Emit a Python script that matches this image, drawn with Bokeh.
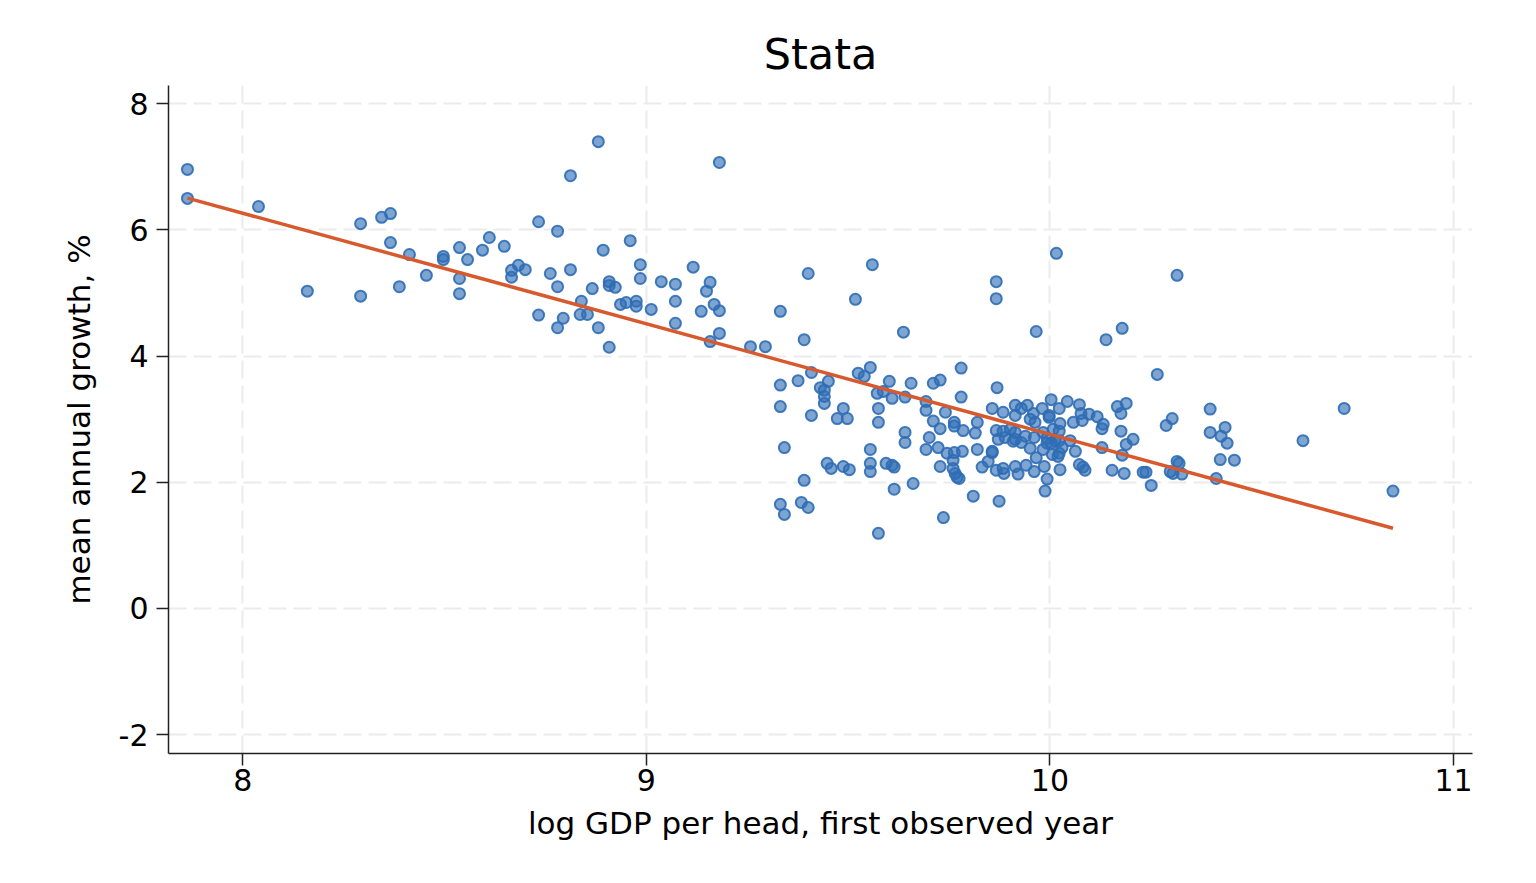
import numpy as np
from bokeh.plotting import figure
from bokeh.models import Range1d, FixedTicker, PrintfTickFormatter
from bokeh.embed import file_html
from bokeh.resources import INLINE

# log GDP per head in the first observed year, one value per country
log_gdp = [
    7.863, 7.863, 8.039, 8.292, 8.344, 8.366, 8.366, 8.413, 8.497, 8.497,
    8.537, 8.455, 8.388, 8.160, 8.292, 8.537, 8.537,
    8.881, 9.181, 8.812, 8.733, 8.780, 8.611, 8.960, 8.648, 8.594, 8.557,
    8.893, 8.666, 8.666, 8.683, 8.700, 8.762, 8.780, 8.812, 8.866, 8.908,
    8.908, 8.923, 8.985, 8.985, 9.037, 9.072, 9.116, 9.158, 9.149, 8.839,
    8.936, 8.950, 8.975, 8.975, 9.012, 9.072, 9.168, 9.181, 9.136, 8.733,
    8.794, 8.780, 8.836, 8.854, 8.881, 8.908, 9.072, 9.181, 9.158, 9.258,
    9.295,
    9.560, 9.401, 9.867, 9.867, 9.518, 9.332, 9.637, 9.391, 9.555, 9.780,
    9.525, 9.540, 9.409, 9.376, 9.451, 9.602, 9.332, 9.431, 9.441, 9.441,
    9.441, 9.656, 9.711, 9.728, 9.869, 9.572, 9.587, 9.609, 9.641, 9.780,
    9.693, 9.693, 9.741, 9.332, 9.409, 9.488, 9.473, 9.498, 9.575, 9.575,
    9.711, 9.728, 9.763, 9.763, 9.785, 9.820, 9.815, 9.857, 9.867, 9.872,
    9.641, 9.641, 9.701, 9.693, 9.723, 9.745, 9.763, 9.783, 9.760, 9.760,
    9.765, 9.770, 9.775, 9.820, 9.857, 9.857, 9.847, 9.832, 9.867, 9.728,
    9.342, 9.555, 9.555, 9.555, 9.448, 9.458, 9.488, 9.503, 9.594, 9.609,
    9.614, 9.661, 9.614, 9.391, 9.810, 9.874, 9.332, 9.342, 9.384, 9.401,
    9.736, 9.575,
    9.884, 9.914, 9.929, 9.944, 9.981, 10.003, 10.043, 10.073, 10.023, 9.914,
    9.959, 9.951, 9.963, 9.998, 9.998, 10.025, 10.058, 10.077, 10.080, 10.097,
    10.117, 10.132, 10.129, 10.167, 10.189, 10.176, 9.884, 9.902, 9.914, 9.889,
    9.909, 9.914, 9.929, 9.939, 9.961, 9.983, 9.993, 10.008, 10.023, 10.013,
    10.023, 10.050, 10.030, 10.003, 9.993, 9.951, 9.983, 9.966, 10.006, 10.020,
    10.023, 9.993, 9.988, 10.025, 10.063, 10.073, 10.082, 10.087, 10.129, 10.176,
    10.206, 10.189, 10.179, 10.154, 10.184, 10.231, 10.238, 10.251, 9.914, 9.921,
    9.941, 9.961, 9.986, 9.884, 9.886, 10.266,
    10.397, 10.729, 10.303, 10.288, 10.397, 10.434, 10.424, 10.439, 10.627, 10.422,
    10.457, 10.315, 10.320, 10.298, 10.305, 10.327, 10.412, 10.850,
    10.016, 10.315, 9.966, 10.139, 10.179,
]

# mean annual growth, % (same order)
growth = [
    6.96, 6.50, 6.37, 6.10, 6.20, 6.26, 5.80, 5.61, 5.58, 5.53,
    5.72, 5.28, 5.10, 5.03, 4.95, 5.23, 4.99,
    7.40, 7.07, 6.86, 6.13, 5.98, 5.88, 5.83, 5.74, 5.68, 5.53,
    5.68, 5.36, 5.25, 5.44, 5.37, 5.31, 5.10, 5.37, 5.07, 5.18,
    5.12, 5.09, 5.45, 5.23, 5.18, 5.14, 5.41, 5.17, 5.03, 4.87,
    4.82, 4.85, 4.87, 4.79, 4.74, 4.87, 4.82, 4.72, 4.71, 4.65,
    4.60, 4.45, 4.66, 4.66, 4.45, 4.14, 4.52, 4.36, 4.23, 4.15,
    4.15,
    5.45, 5.31, 5.18, 4.91, 4.90, 4.71, 4.38, 4.26, 3.82, 3.81,
    3.73, 3.68, 3.74, 3.61, 3.60, 3.60, 3.54, 3.50, 3.46, 3.36,
    3.25, 3.57, 3.57, 3.62, 3.50, 3.41, 3.44, 3.33, 3.35, 3.35,
    3.28, 3.14, 3.11, 3.20, 3.06, 3.17, 3.01, 3.01, 3.17, 2.95,
    2.97, 2.85, 2.95, 2.89, 2.82, 2.95, 2.78, 3.17, 2.82, 2.68,
    2.79, 2.63, 2.71, 2.52, 2.55, 2.46, 2.47, 2.49, 2.35, 2.22,
    2.14, 2.08, 2.06, 2.52, 2.49, 2.47, 2.33, 2.24, 2.19, 2.25,
    2.55, 2.52, 2.30, 2.17, 2.30, 2.22, 2.25, 2.20, 2.30, 2.27,
    2.24, 1.98, 1.89, 2.03, 1.78, 1.70, 1.65, 1.49, 1.68, 1.60,
    1.44, 1.19,
    3.11, 3.22, 3.17, 3.22, 3.17, 3.31, 3.28, 3.23, 3.17, 3.06,
    3.09, 3.00, 2.95, 3.06, 3.03, 2.93, 2.95, 3.09, 2.98, 3.08,
    3.04, 2.92, 2.85, 3.20, 3.25, 3.09, 2.81, 2.84, 2.79, 2.71,
    2.65, 2.68, 2.63, 2.73, 2.71, 2.79, 2.70, 2.84, 2.81, 2.66,
    2.66, 2.66, 2.55, 2.62, 2.62, 2.54, 2.52, 2.39, 2.44, 2.41,
    2.46, 2.05, 1.86, 2.20, 2.49, 2.28, 2.24, 2.19, 2.55, 2.81,
    2.68, 2.60, 2.43, 2.19, 2.14, 2.16, 2.16, 1.95, 2.25, 2.13,
    2.27, 2.17, 2.25, 2.22, 2.14, 3.71,
    3.16, 3.17, 3.01, 2.90, 2.79, 2.87, 2.73, 2.62, 2.66, 2.36,
    2.35, 2.33, 2.30, 2.17, 2.14, 2.13, 2.06, 1.86,
    5.63, 5.28, 4.39, 4.26, 4.44,
]

x_ticks = [8, 9, 10, 11]
y_ticks = [-2, 0, 2, 4, 6, 8]

FONT = "DejaVu Sans"
DOT = "#2f6db5"
FIT = "#d65a2d"

# OLS line over the observed range
slope, icpt = np.polyfit(log_gdp, growth, 1)
fit_x = [min(log_gdp), max(log_gdp)]
fit_y = [icpt + slope * v for v in fit_x]

p = figure(width=1528, height=874, output_backend="svg", toolbar_location=None,
           x_range=Range1d(7.816, 11.047), y_range=Range1d(-2.30, 8.29),
           title="Stata", min_border_left=168, min_border_right=56,
           min_border_top=85, min_border_bottom=121)

p.title.text_font = FONT
p.title.text_font_size = "43px"
p.title.text_font_style = "normal"
p.title.align = "center"
p.title.text_color = "#000000"
p.title.offset = 0
p.title.standoff = 14

p.outline_line_color = None
p.background_fill_color = "white"
p.border_fill_color = "white"

for g in (p.xgrid, p.ygrid):
    g.grid_line_color = "#ebebeb"
    g.grid_line_width = 2
    g.grid_line_dash = "18 7"
p.xgrid.ticker = FixedTicker(ticks=x_ticks)
p.ygrid.ticker = FixedTicker(ticks=y_ticks)

p.xaxis.ticker = FixedTicker(ticks=x_ticks)
p.yaxis.ticker = FixedTicker(ticks=y_ticks)
p.xaxis.formatter = PrintfTickFormatter(format="%d")
p.yaxis.formatter = PrintfTickFormatter(format="%d")
p.xaxis.axis_label = "log GDP per head, first observed year"
p.yaxis.axis_label = "mean annual growth, %"

for ax in (p.xaxis, p.yaxis):
    ax.axis_line_color = "#222222"
    ax.axis_line_width = 1.5
    ax.major_tick_line_color = "#222222"
    ax.major_tick_line_width = 1.5
    ax.major_tick_out = 12
    ax.major_tick_in = 0
    ax.minor_tick_line_color = None
    ax.major_label_text_font = FONT
    ax.major_label_text_font_size = "30px"
    ax.major_label_text_color = "#000000"
    ax.axis_label_text_font = FONT
    ax.axis_label_text_font_size = "31px"
    ax.axis_label_text_font_style = "normal"
    ax.axis_label_text_color = "#000000"

p.xaxis.major_label_standoff = 3
p.xaxis.axis_label_standoff = 11
p.yaxis.major_label_standoff = 8
p.yaxis.axis_label_standoff = 19

p.scatter(log_gdp, growth, size=11, marker="circle",
          fill_color=DOT, fill_alpha=0.62, line_color=DOT, line_alpha=0.9,
          line_width=2)
p.line(fit_x, fit_y, line_color=FIT, line_width=3.5)

open("out.html", "w").write(file_html(p, INLINE))
